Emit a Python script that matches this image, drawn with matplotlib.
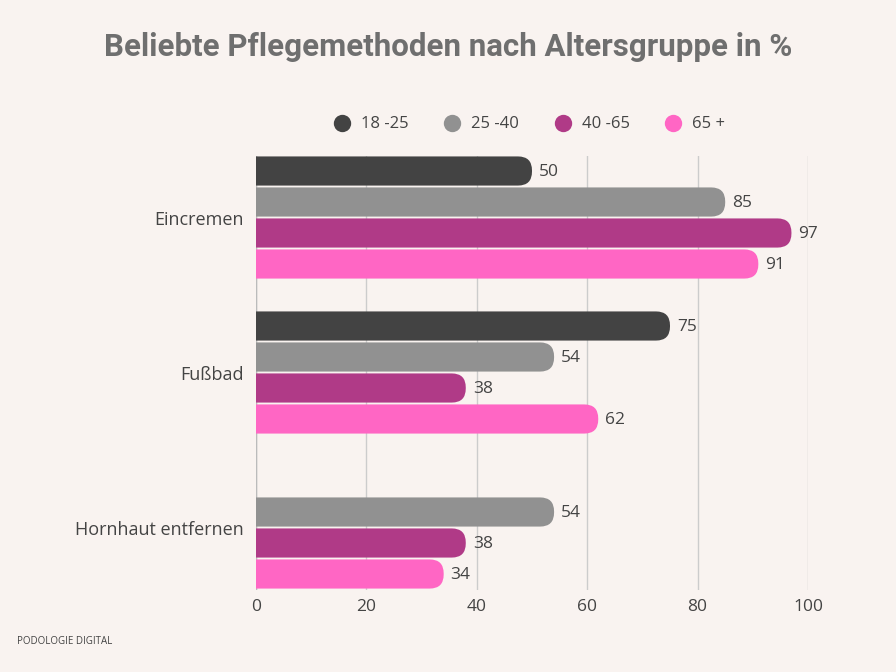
import numpy as np
import matplotlib.pyplot as plt
from matplotlib.patches import FancyBboxPatch
from matplotlib.lines import Line2D

categories = ['Eincremen', 'Fußbad', 'Hornhaut entfernen']
groups = ['18 -25', '25 -40', '40 -65', '65 +']
values = {
    '18 -25': [50, 75, None],
    '25 -40': [85, 54, 54],
    '40 -65': [97, 38, 38],
    '65 +': [91, 62, 34],
}
colors = ['#434343', '#919191', '#b03a87', '#ff66c4']
xticks = [0, 20, 40, 60, 80, 100]

bg = '#f9f3f0'
txt = '#444444'
font = 'Open Sans'

fig = plt.figure(figsize=(8.96, 6.72), dpi=100, facecolor=bg)
# axes box in pixels: x 256..808, y 155.5..589.5
ax = fig.add_axes([256 / 896, 1 - 589.5 / 672, 552 / 896, 434 / 672])
ax.set_facecolor(bg)
ax.set_xlim(0, 100)
ax.set_ylim(13.5, -0.5)

# pixel scale for circular corners
px_x = 552 / 100.0
px_y = 434 / 14.0
aspect = px_x / px_y
bar_h = 0.94
rad = 14 / px_x

for gi, cat in enumerate(categories):
    for si, grp in enumerate(groups):
        v = values[grp][gi]
        if v is None:
            continue
        y = gi * 5 + si
        box = FancyBboxPatch((-5, y - bar_h / 2), v + 5, bar_h,
                             boxstyle=f'round,pad=0,rounding_size={rad}',
                             mutation_aspect=aspect,
                             fc=colors[si], ec='none', zorder=3)
        ax.add_patch(box)
        ax.text(v + 7 / px_x, y + 0.03, str(v), va='center', ha='left',
                fontsize=12.5, color=txt, family=font, clip_on=False)

ax.set_yticks([gi * 5 + 1.5 for gi in range(len(categories))])
ax.set_yticklabels(categories, fontsize=13, color=txt, family=font)
ax.set_xticks(xticks)
ax.set_xticklabels([str(t) for t in xticks], fontsize=12.5, color=txt, family=font)
ax.tick_params(length=0, pad=6.5)
ax.tick_params(axis='y', pad=9)
ax.xaxis.grid(True, color='#cccccc', linewidth=1, zorder=0)
ax.set_axisbelow(True)
for s in ax.spines.values():
    s.set_visible(False)
ax.axvline(0, color='#bbbbbb', linewidth=1, zorder=1)

handles = [Line2D([], [], marker='o', linestyle='none', markersize=12.5,
                  markerfacecolor=c, markeredgecolor='none') for c in colors]
ax.legend(handles, groups, loc='center', bbox_to_anchor=(0.488, 1 + 31 / 434),
          ncol=4, frameon=False, handletextpad=0.15,
          columnspacing=1.6, labelcolor=txt, prop={'family': font, 'size': 12})

fig.text(0.5, 1 - 47 / 672, 'Beliebte Pflegemethoden nach Altersgruppe in %',
         ha='center', va='center', fontsize=22.5, fontweight='bold',
         color='#6f6f6f', family='Roboto')
fig.text(17 / 896, 1 - 641 / 672, 'PODOLOGIE DIGITAL', ha='left', va='center',
         fontsize=7, color=txt, family=font)

fig.savefig('out.png', dpi=100, facecolor=bg)
